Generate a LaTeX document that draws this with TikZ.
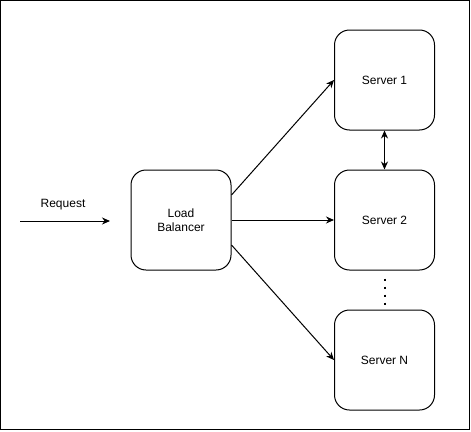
\documentclass[tikz,border=0pt]{standalone}
\usepackage{fontspec}
\setmainfont{Liberation Sans}
\usetikzlibrary{arrows.meta}
\begin{document}
\begin{tikzpicture}[x=1pt,y=-1pt,
  box/.style={draw=black,line width=1pt,rounded corners=15pt,minimum width=100pt,minimum height=100pt,inner sep=0pt,align=center,font=\fontsize{12pt}{14pt}\selectfont},
  conn/.style={line width=1pt,-{Stealth[length=8pt,width=7pt]}},
  lbl/.style={font=\fontsize{12pt}{14pt}\selectfont,inner sep=0pt}]
\useasboundingbox (0,0) rectangle (471,431);
\draw[line width=1pt] (0.5,0.5) rectangle (469.5,429.5);
\node[box] (lb) at (181,220) {Load\\Balancer};
\node[box] (s1) at (384.5,80) {Server 1};
\node[box] (s2) at (384.5,220) {Server 2};
\node[box] (sn) at (384.5,360) {Server N};
\coordinate (rq) at (20,221);
\coordinate (rqe) at (110,221);
\node[lbl] (rql) at (63,205) {Request};
\draw[conn] (rq) -- (rqe);
\draw[conn] ([yshift=25pt]lb.east) -- (s1.west);
\draw[conn] (lb.east) -- (s2.west);
\draw[conn] ([yshift=-25pt]lb.east) -- (sn.west);
\draw[line width=1pt,{Stealth[length=8pt,width=7pt]}-{Stealth[length=8pt,width=7pt]}] (s1.south) -- (s2.north);
\draw[line width=2pt,dash pattern=on 2pt off 6pt] ([yshift=-8pt]s2.south) -- ([yshift=5pt]sn.north);
\end{tikzpicture}
\end{document}
